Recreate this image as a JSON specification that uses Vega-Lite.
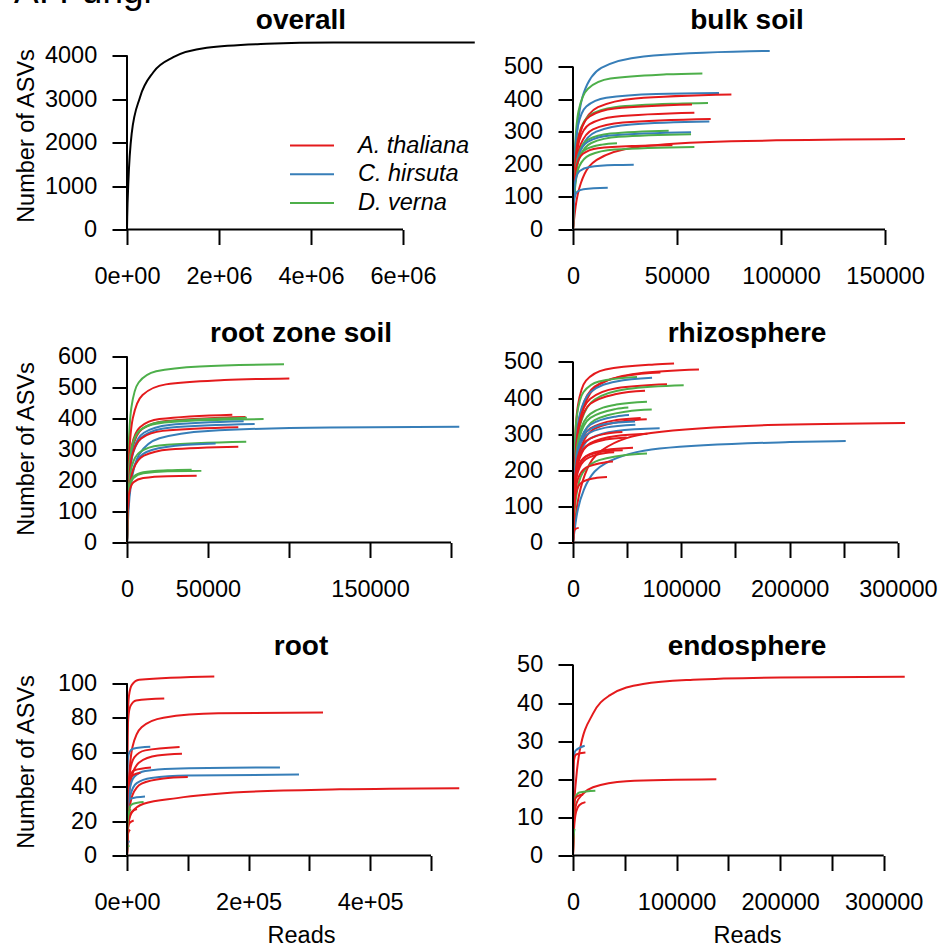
{
"$schema": "https://vega.github.io/schema/vega-lite/v6.json",
"background": "white",
"padding": {"left": 13, "top": -27.5, "right": 0, "bottom": 0},
"title": {"text": "A: Fungi", "anchor": "start", "fontSize": 37, "fontWeight": "normal", "font": "Liberation Sans", "color": "black", "baseline": "alphabetic", "offset": -33},
"config": {
  "font": "Liberation Sans",
  "view": {"stroke": null},
  "axis": {"grid": false, "domain": false, "tickColor": "black", "tickWidth": 2, "tickSize": 15, "labelFont": "Liberation Sans", "labelFontSize": 23.5, "labelColor": "black", "titleFont": "Liberation Sans", "titleFontSize": 23.5, "titleFontWeight": "normal", "titleColor": "black", "labelFlush": false, "labelOverlap": false, "labelBound": false, "tickCount": 20},
  "axisX": {"labelBaseline": "alphabetic", "labelPadding": 38.7, "labelAlign": "center", "labelAngle": 0, "titleX": 174, "titleY": 87, "titleBaseline": "alphabetic", "titleAlign": "center"},
  "axisY": {"labelPadding": 15.3, "labelAlign": "right", "labelBaseline": "middle", "titleX": -94, "titleY": 97, "titleBaseline": "alphabetic", "titleAlign": "center", "titleAngle": -90},
  "title": {"font": "Liberation Sans", "fontSize": 28, "fontWeight": "bold", "color": "black", "offset": 3.5, "baseline": "alphabetic", "anchor": "middle"}
},
"datasets": {
"curves": [
{"id":"b1","sp":"C. hirsuta"},{"id":"b2","sp":"D. verna"},{"id":"b3","sp":"C. hirsuta"},{"id":"b4","sp":"A. thaliana"},{"id":"b5","sp":"D. verna"},{"id":"b6","sp":"A. thaliana"},{"id":"b7","sp":"A. thaliana"},{"id":"b8","sp":"A. thaliana"},{"id":"b9","sp":"C. hirsuta"},{"id":"b10","sp":"D. verna"},{"id":"b11","sp":"C. hirsuta"},{"id":"b12","sp":"D. verna"},{"id":"b13","sp":"A. thaliana"},{"id":"b14","sp":"D. verna"},{"id":"b15","sp":"A. thaliana"},{"id":"b16","sp":"D. verna"},{"id":"b17","sp":"C. hirsuta"},{"id":"b18","sp":"C. hirsuta"},
{"id":"r1","sp":"D. verna"},{"id":"r2","sp":"A. thaliana"},{"id":"r3","sp":"A. thaliana"},{"id":"r4","sp":"A. thaliana"},{"id":"r5","sp":"D. verna"},{"id":"r6","sp":"D. verna"},{"id":"r7","sp":"C. hirsuta"},{"id":"r8","sp":"C. hirsuta"},{"id":"r9","sp":"A. thaliana"},{"id":"r10","sp":"C. hirsuta"},{"id":"r11","sp":"D. verna"},{"id":"r12","sp":"C. hirsuta"},{"id":"r13","sp":"A. thaliana"},{"id":"r14","sp":"D. verna"},{"id":"r15","sp":"D. verna"},{"id":"r16","sp":"A. thaliana"},
{"id":"z1","sp":"A. thaliana"},{"id":"z2","sp":"A. thaliana"},{"id":"z3","sp":"A. thaliana"},{"id":"z4","sp":"D. verna"},{"id":"z5","sp":"C. hirsuta"},{"id":"z6","sp":"A. thaliana"},{"id":"z7","sp":"D. verna"},{"id":"z8","sp":"A. thaliana"},{"id":"z9","sp":"D. verna"},{"id":"z10","sp":"D. verna"},{"id":"z11","sp":"D. verna"},{"id":"z12","sp":"C. hirsuta"},{"id":"z13","sp":"A. thaliana"},{"id":"z14","sp":"A. thaliana"},{"id":"z15","sp":"C. hirsuta"},{"id":"z16","sp":"C. hirsuta"},{"id":"z17","sp":"C. hirsuta"},{"id":"z18","sp":"A. thaliana"},{"id":"z19","sp":"A. thaliana"},{"id":"z20","sp":"A. thaliana"},{"id":"z21","sp":"A. thaliana"},{"id":"z22","sp":"C. hirsuta"},{"id":"z23","sp":"D. verna"},{"id":"z24","sp":"A. thaliana"},{"id":"z25","sp":"A. thaliana"},{"id":"z26","sp":"A. thaliana"},{"id":"z27","sp":"A. thaliana"},{"id":"z28","sp":"A. thaliana"},{"id":"z29","sp":"A. thaliana"},
{"id":"t1","sp":"A. thaliana"},{"id":"t2","sp":"A. thaliana"},{"id":"t3","sp":"A. thaliana"},{"id":"t4","sp":"C. hirsuta"},{"id":"t5","sp":"A. thaliana"},{"id":"t6","sp":"A. thaliana"},{"id":"t7","sp":"A. thaliana"},{"id":"t8","sp":"C. hirsuta"},{"id":"t9","sp":"C. hirsuta"},{"id":"t10","sp":"A. thaliana"},{"id":"t11","sp":"C. hirsuta"},{"id":"t12","sp":"D. verna"},{"id":"t13","sp":"A. thaliana"},{"id":"t14","sp":"A. thaliana"},{"id":"t15","sp":"A. thaliana"},{"id":"t16","sp":"C. hirsuta"},{"id":"t17","sp":"D. verna"},{"id":"t18","sp":"A. thaliana"},{"id":"t19","sp":"A. thaliana"},{"id":"t20","sp":"D. verna"},
{"id":"e1","sp":"A. thaliana"},{"id":"e2","sp":"A. thaliana"},{"id":"e3","sp":"C. hirsuta"},{"id":"e4","sp":"A. thaliana"},{"id":"e5","sp":"D. verna"},{"id":"e6","sp":"A. thaliana"},{"id":"e7","sp":"A. thaliana"},{"id":"e8","sp":"D. verna"}
],
"pts_overall": [
{"reads":0,"asvs":0},{"reads":5000,"asvs":300},{"reads":28000,"asvs":1050},{"reads":101000,"asvs":2200},{"reads":283000,"asvs":3041},{"reads":572000,"asvs":3616},{"reads":1007000,"asvs":3961},{"reads":1733000,"asvs":4177},{"reads":3037000,"asvs":4269},{"reads":4485000,"asvs":4299},{"reads":7560000,"asvs":4300}
],
"pts_bulk": [
{"id":"b1","reads":0,"asvs":0},{"id":"b1","reads":567,"asvs":140},{"id":"b1","reads":1700,"asvs":280},{"id":"b1","reads":5100,"asvs":419},{"id":"b1","reads":13600,"asvs":497},{"id":"b1","reads":34000,"asvs":532},{"id":"b1","reads":85000,"asvs":548},{"id":"b1","reads":94570,"asvs":549},
{"id":"b2","reads":0,"asvs":0},{"id":"b2","reads":300,"asvs":122},{"id":"b2","reads":900,"asvs":244},{"id":"b2","reads":2700,"asvs":365},{"id":"b2","reads":7200,"asvs":433},{"id":"b2","reads":18000,"asvs":464},{"id":"b2","reads":45000,"asvs":477},{"id":"b2","reads":62200,"asvs":480},
{"id":"b3","reads":0,"asvs":0},{"id":"b3","reads":267,"asvs":106},{"id":"b3","reads":800,"asvs":213},{"id":"b3","reads":2400,"asvs":319},{"id":"b3","reads":6400,"asvs":378},{"id":"b3","reads":16000,"asvs":405},{"id":"b3","reads":40000,"asvs":417},{"id":"b3","reads":70200,"asvs":420},
{"id":"b4","reads":0,"asvs":0},{"id":"b4","reads":500,"asvs":106},{"id":"b4","reads":1500,"asvs":212},{"id":"b4","reads":4500,"asvs":317},{"id":"b4","reads":12000,"asvs":376},{"id":"b4","reads":30000,"asvs":403},{"id":"b4","reads":76150,"asvs":415},
{"id":"b5","reads":0,"asvs":0},{"id":"b5","reads":333,"asvs":99},{"id":"b5","reads":1000,"asvs":198},{"id":"b5","reads":3000,"asvs":296},{"id":"b5","reads":8000,"asvs":351},{"id":"b5","reads":20000,"asvs":376},{"id":"b5","reads":50000,"asvs":387},{"id":"b5","reads":64900,"asvs":389},
{"id":"b6","reads":0,"asvs":0},{"id":"b6","reads":333,"asvs":98},{"id":"b6","reads":1000,"asvs":196},{"id":"b6","reads":3000,"asvs":293},{"id":"b6","reads":8000,"asvs":348},{"id":"b6","reads":20000,"asvs":372},{"id":"b6","reads":57200,"asvs":384},
{"id":"b7","reads":0,"asvs":0},{"id":"b7","reads":333,"asvs":91},{"id":"b7","reads":1000,"asvs":183},{"id":"b7","reads":3000,"asvs":274},{"id":"b7","reads":8000,"asvs":324},{"id":"b7","reads":20000,"asvs":347},{"id":"b7","reads":58350,"asvs":359},
{"id":"b8","reads":0,"asvs":0},{"id":"b8","reads":400,"asvs":87},{"id":"b8","reads":1200,"asvs":173},{"id":"b8","reads":3600,"asvs":260},{"id":"b8","reads":9600,"asvs":308},{"id":"b8","reads":24000,"asvs":329},{"id":"b8","reads":66200,"asvs":340},
{"id":"b9","reads":0,"asvs":0},{"id":"b9","reads":467,"asvs":85},{"id":"b9","reads":1400,"asvs":170},{"id":"b9","reads":4200,"asvs":254},{"id":"b9","reads":11200,"asvs":301},{"id":"b9","reads":28000,"asvs":323},{"id":"b9","reads":65550,"asvs":332},
{"id":"b10","reads":0,"asvs":0},{"id":"b10","reads":300,"asvs":78},{"id":"b10","reads":900,"asvs":155},{"id":"b10","reads":2700,"asvs":233},{"id":"b10","reads":7200,"asvs":276},{"id":"b10","reads":18000,"asvs":295},{"id":"b10","reads":46000,"asvs":304},
{"id":"b11","reads":0,"asvs":0},{"id":"b11","reads":300,"asvs":76},{"id":"b11","reads":900,"asvs":152},{"id":"b11","reads":2700,"asvs":228},{"id":"b11","reads":7200,"asvs":270},{"id":"b11","reads":18000,"asvs":289},{"id":"b11","reads":56750,"asvs":299},
{"id":"b12","reads":0,"asvs":0},{"id":"b12","reads":367,"asvs":75},{"id":"b12","reads":1100,"asvs":150},{"id":"b12","reads":3300,"asvs":224},{"id":"b12","reads":8800,"asvs":266},{"id":"b12","reads":22000,"asvs":285},{"id":"b12","reads":56750,"asvs":293},
{"id":"b13","reads":0,"asvs":0},{"id":"b13","reads":1267,"asvs":71},{"id":"b13","reads":3800,"asvs":143},{"id":"b13","reads":11400,"asvs":214},{"id":"b13","reads":30400,"asvs":253},{"id":"b13","reads":76000,"asvs":271},{"id":"b13","reads":159600,"asvs":278},
{"id":"b14","reads":0,"asvs":0},{"id":"b14","reads":233,"asvs":69},{"id":"b14","reads":700,"asvs":137},{"id":"b14","reads":2100,"asvs":206},{"id":"b14","reads":5600,"asvs":244},{"id":"b14","reads":14000,"asvs":261},{"id":"b14","reads":21150,"asvs":265},
{"id":"b15","reads":0,"asvs":0},{"id":"b15","reads":200,"asvs":66},{"id":"b15","reads":600,"asvs":131},{"id":"b15","reads":1800,"asvs":197},{"id":"b15","reads":4800,"asvs":233},{"id":"b15","reads":12000,"asvs":250},{"id":"b15","reads":30000,"asvs":257},{"id":"b15","reads":47800,"asvs":259},
{"id":"b16","reads":0,"asvs":0},{"id":"b16","reads":333,"asvs":65},{"id":"b16","reads":1000,"asvs":129},{"id":"b16","reads":3000,"asvs":194},{"id":"b16","reads":8000,"asvs":229},{"id":"b16","reads":20000,"asvs":246},{"id":"b16","reads":58350,"asvs":254},
{"id":"b17","reads":0,"asvs":0},{"id":"b17","reads":133,"asvs":51},{"id":"b17","reads":400,"asvs":101},{"id":"b17","reads":1200,"asvs":152},{"id":"b17","reads":3200,"asvs":180},{"id":"b17","reads":8000,"asvs":192},{"id":"b17","reads":20000,"asvs":198},{"id":"b17","reads":29200,"asvs":199},
{"id":"b18","reads":0,"asvs":0},{"id":"b18","reads":83,"asvs":33},{"id":"b18","reads":250,"asvs":65},{"id":"b18","reads":750,"asvs":98},{"id":"b18","reads":2000,"asvs":116},{"id":"b18","reads":5000,"asvs":124},{"id":"b18","reads":16700,"asvs":128}
],
"pts_rzs": [
{"id":"r1","reads":0,"asvs":0},{"id":"r1","reads":300,"asvs":145},{"id":"r1","reads":900,"asvs":290},{"id":"r1","reads":2700,"asvs":435},{"id":"r1","reads":7200,"asvs":516},{"id":"r1","reads":18000,"asvs":552},{"id":"r1","reads":45000,"asvs":568},{"id":"r1","reads":96900,"asvs":575},
{"id":"r2","reads":0,"asvs":0},{"id":"r2","reads":400,"asvs":134},{"id":"r2","reads":1200,"asvs":268},{"id":"r2","reads":3600,"asvs":401},{"id":"r2","reads":9600,"asvs":476},{"id":"r2","reads":24000,"asvs":510},{"id":"r2","reads":60000,"asvs":524},{"id":"r2","reads":100200,"asvs":529},
{"id":"r3","reads":0,"asvs":0},{"id":"r3","reads":333,"asvs":105},{"id":"r3","reads":1000,"asvs":209},{"id":"r3","reads":3000,"asvs":314},{"id":"r3","reads":8000,"asvs":372},{"id":"r3","reads":20000,"asvs":398},{"id":"r3","reads":65000,"asvs":412},
{"id":"r4","reads":0,"asvs":0},{"id":"r4","reads":400,"asvs":103},{"id":"r4","reads":1200,"asvs":206},{"id":"r4","reads":3600,"asvs":309},{"id":"r4","reads":9600,"asvs":367},{"id":"r4","reads":24000,"asvs":392},{"id":"r4","reads":73200,"asvs":405},
{"id":"r5","reads":0,"asvs":0},{"id":"r5","reads":300,"asvs":101},{"id":"r5","reads":900,"asvs":201},{"id":"r5","reads":2700,"asvs":302},{"id":"r5","reads":7200,"asvs":358},{"id":"r5","reads":18000,"asvs":383},{"id":"r5","reads":45000,"asvs":394},{"id":"r5","reads":84300,"asvs":398},
{"id":"r6","reads":0,"asvs":0},{"id":"r6","reads":333,"asvs":102},{"id":"r6","reads":1000,"asvs":204},{"id":"r6","reads":3000,"asvs":305},{"id":"r6","reads":8000,"asvs":362},{"id":"r6","reads":20000,"asvs":388},{"id":"r6","reads":74000,"asvs":402},
{"id":"r7","reads":0,"asvs":0},{"id":"r7","reads":433,"asvs":100},{"id":"r7","reads":1300,"asvs":199},{"id":"r7","reads":3900,"asvs":299},{"id":"r7","reads":10400,"asvs":354},{"id":"r7","reads":26000,"asvs":379},{"id":"r7","reads":72000,"asvs":391},
{"id":"r8","reads":0,"asvs":0},{"id":"r8","reads":433,"asvs":97},{"id":"r8","reads":1300,"asvs":194},{"id":"r8","reads":3900,"asvs":291},{"id":"r8","reads":10400,"asvs":345},{"id":"r8","reads":26000,"asvs":370},{"id":"r8","reads":78800,"asvs":382},
{"id":"r9","reads":0,"asvs":0},{"id":"r9","reads":367,"asvs":95},{"id":"r9","reads":1100,"asvs":189},{"id":"r9","reads":3300,"asvs":284},{"id":"r9","reads":8800,"asvs":336},{"id":"r9","reads":22000,"asvs":360},{"id":"r9","reads":68700,"asvs":372},
{"id":"r10","reads":0,"asvs":0},{"id":"r10","reads":833,"asvs":95},{"id":"r10","reads":2500,"asvs":189},{"id":"r10","reads":7500,"asvs":284},{"id":"r10","reads":20000,"asvs":336},{"id":"r10","reads":50000,"asvs":360},{"id":"r10","reads":125000,"asvs":371},{"id":"r10","reads":205100,"asvs":373},
{"id":"r11","reads":0,"asvs":0},{"id":"r11","reads":333,"asvs":82},{"id":"r11","reads":1000,"asvs":165},{"id":"r11","reads":3000,"asvs":247},{"id":"r11","reads":8000,"asvs":292},{"id":"r11","reads":20000,"asvs":313},{"id":"r11","reads":73600,"asvs":325},
{"id":"r12","reads":0,"asvs":0},{"id":"r12","reads":500,"asvs":82},{"id":"r12","reads":1500,"asvs":164},{"id":"r12","reads":4500,"asvs":246},{"id":"r12","reads":12000,"asvs":292},{"id":"r12","reads":30000,"asvs":312},{"id":"r12","reads":54700,"asvs":319},
{"id":"r13","reads":0,"asvs":0},{"id":"r13","reads":433,"asvs":79},{"id":"r13","reads":1300,"asvs":158},{"id":"r13","reads":3900,"asvs":236},{"id":"r13","reads":10400,"asvs":280},{"id":"r13","reads":26000,"asvs":300},{"id":"r13","reads":68700,"asvs":309},
{"id":"r14","reads":0,"asvs":0},{"id":"r14","reads":167,"asvs":60},{"id":"r14","reads":500,"asvs":119},{"id":"r14","reads":1500,"asvs":179},{"id":"r14","reads":4000,"asvs":212},{"id":"r14","reads":10000,"asvs":227},{"id":"r14","reads":25000,"asvs":233},{"id":"r14","reads":39900,"asvs":235},
{"id":"r15","reads":0,"asvs":0},{"id":"r15","reads":167,"asvs":59},{"id":"r15","reads":500,"asvs":117},{"id":"r15","reads":1500,"asvs":176},{"id":"r15","reads":4000,"asvs":208},{"id":"r15","reads":10000,"asvs":223},{"id":"r15","reads":25000,"asvs":230},{"id":"r15","reads":45900,"asvs":231},
{"id":"r16","reads":0,"asvs":0},{"id":"r16","reads":167,"asvs":55},{"id":"r16","reads":500,"asvs":109},{"id":"r16","reads":1500,"asvs":164},{"id":"r16","reads":4000,"asvs":194},{"id":"r16","reads":10000,"asvs":208},{"id":"r16","reads":25000,"asvs":214},{"id":"r16","reads":43000,"asvs":215}
],
"pts_rhizo": [
{"id":"z1","reads":0,"asvs":0},{"id":"z1","reads":500,"asvs":126},{"id":"z1","reads":1500,"asvs":252},{"id":"z1","reads":4500,"asvs":378},{"id":"z1","reads":12000,"asvs":448},{"id":"z1","reads":30000,"asvs":479},{"id":"z1","reads":75000,"asvs":493},{"id":"z1","reads":93300,"asvs":495.5},
{"id":"z2","reads":0,"asvs":0},{"id":"z2","reads":1000,"asvs":123},{"id":"z2","reads":3000,"asvs":246},{"id":"z2","reads":9000,"asvs":368},{"id":"z2","reads":24000,"asvs":437},{"id":"z2","reads":60000,"asvs":468},{"id":"z2","reads":116300,"asvs":479},
{"id":"z3","reads":0,"asvs":0},{"id":"z3","reads":833,"asvs":121},{"id":"z3","reads":2500,"asvs":243},{"id":"z3","reads":7500,"asvs":364},{"id":"z3","reads":20000,"asvs":432},{"id":"z3","reads":50000,"asvs":462},{"id":"z3","reads":80700,"asvs":471},
{"id":"z4","reads":0,"asvs":0},{"id":"z4","reads":400,"asvs":117},{"id":"z4","reads":1200,"asvs":234},{"id":"z4","reads":3600,"asvs":351},{"id":"z4","reads":9600,"asvs":416},{"id":"z4","reads":24000,"asvs":446},{"id":"z4","reads":59100,"asvs":458.5},
{"id":"z5","reads":0,"asvs":0},{"id":"z5","reads":667,"asvs":117},{"id":"z5","reads":2000,"asvs":234},{"id":"z5","reads":6000,"asvs":351},{"id":"z5","reads":16000,"asvs":416},{"id":"z5","reads":40000,"asvs":446},{"id":"z5","reads":73000,"asvs":456},
{"id":"z6","reads":0,"asvs":0},{"id":"z6","reads":667,"asvs":112},{"id":"z6","reads":2000,"asvs":224},{"id":"z6","reads":6000,"asvs":336},{"id":"z6","reads":16000,"asvs":398},{"id":"z6","reads":40000,"asvs":427},{"id":"z6","reads":86800,"asvs":438},
{"id":"z7","reads":0,"asvs":0},{"id":"z7","reads":833,"asvs":112},{"id":"z7","reads":2500,"asvs":223},{"id":"z7","reads":7500,"asvs":335},{"id":"z7","reads":20000,"asvs":396},{"id":"z7","reads":50000,"asvs":425},{"id":"z7","reads":102200,"asvs":435.5},
{"id":"z8","reads":0,"asvs":0},{"id":"z8","reads":667,"asvs":108},{"id":"z8","reads":2000,"asvs":216},{"id":"z8","reads":6000,"asvs":324},{"id":"z8","reads":16000,"asvs":384},{"id":"z8","reads":40000,"asvs":411},{"id":"z8","reads":66500,"asvs":420},
{"id":"z9","reads":0,"asvs":0},{"id":"z9","reads":667,"asvs":100},{"id":"z9","reads":2000,"asvs":201},{"id":"z9","reads":6000,"asvs":301},{"id":"z9","reads":16000,"asvs":356},{"id":"z9","reads":40000,"asvs":382},{"id":"z9","reads":68300,"asvs":390},
{"id":"z10","reads":0,"asvs":0},{"id":"z10","reads":833,"asvs":95},{"id":"z10","reads":2500,"asvs":190},{"id":"z10","reads":7500,"asvs":286},{"id":"z10","reads":20000,"asvs":339},{"id":"z10","reads":50000,"asvs":363},{"id":"z10","reads":72700,"asvs":368},
{"id":"z11","reads":0,"asvs":0},{"id":"z11","reads":667,"asvs":97},{"id":"z11","reads":2000,"asvs":194},{"id":"z11","reads":6000,"asvs":291},{"id":"z11","reads":16000,"asvs":345},{"id":"z11","reads":40000,"asvs":370},{"id":"z11","reads":51100,"asvs":374},
{"id":"z12","reads":0,"asvs":0},{"id":"z12","reads":667,"asvs":92},{"id":"z12","reads":2000,"asvs":183},{"id":"z12","reads":6000,"asvs":275},{"id":"z12","reads":16000,"asvs":326},{"id":"z12","reads":40000,"asvs":349},{"id":"z12","reads":51700,"asvs":353},
{"id":"z13","reads":0,"asvs":0},{"id":"z13","reads":833,"asvs":88},{"id":"z13","reads":2500,"asvs":177},{"id":"z13","reads":7500,"asvs":265},{"id":"z13","reads":20000,"asvs":315},{"id":"z13","reads":50000,"asvs":337},{"id":"z13","reads":68100,"asvs":341},
{"id":"z14","reads":0,"asvs":0},{"id":"z14","reads":667,"asvs":89},{"id":"z14","reads":2000,"asvs":178},{"id":"z14","reads":6000,"asvs":267},{"id":"z14","reads":16000,"asvs":316},{"id":"z14","reads":40000,"asvs":339},{"id":"z14","reads":62500,"asvs":345},
{"id":"z15","reads":0,"asvs":0},{"id":"z15","reads":500,"asvs":86},{"id":"z15","reads":1500,"asvs":172},{"id":"z15","reads":4500,"asvs":258},{"id":"z15","reads":12000,"asvs":306},{"id":"z15","reads":30000,"asvs":328},{"id":"z15","reads":57300,"asvs":335},
{"id":"z16","reads":0,"asvs":0},{"id":"z16","reads":500,"asvs":84},{"id":"z16","reads":1500,"asvs":167},{"id":"z16","reads":4500,"asvs":251},{"id":"z16","reads":12000,"asvs":297},{"id":"z16","reads":30000,"asvs":318},{"id":"z16","reads":57600,"asvs":326},
{"id":"z17","reads":0,"asvs":0},{"id":"z17","reads":667,"asvs":81},{"id":"z17","reads":2000,"asvs":162},{"id":"z17","reads":6000,"asvs":243},{"id":"z17","reads":16000,"asvs":288},{"id":"z17","reads":40000,"asvs":309},{"id":"z17","reads":80000,"asvs":316},
{"id":"z18","reads":0,"asvs":0},{"id":"z18","reads":500,"asvs":79},{"id":"z18","reads":1500,"asvs":158},{"id":"z18","reads":4500,"asvs":237},{"id":"z18","reads":12000,"asvs":281},{"id":"z18","reads":30000,"asvs":301},{"id":"z18","reads":45600,"asvs":306},
{"id":"z19","reads":0,"asvs":0},{"id":"z19","reads":667,"asvs":77},{"id":"z19","reads":2000,"asvs":155},{"id":"z19","reads":6000,"asvs":232},{"id":"z19","reads":16000,"asvs":275},{"id":"z19","reads":40000,"asvs":295},{"id":"z19","reads":68700,"asvs":301},
{"id":"z20","reads":0,"asvs":0},{"id":"z20","reads":500,"asvs":75},{"id":"z20","reads":1500,"asvs":150},{"id":"z20","reads":4500,"asvs":225},{"id":"z20","reads":12000,"asvs":266},{"id":"z20","reads":30000,"asvs":285},{"id":"z20","reads":49600,"asvs":291},
{"id":"z21","reads":0,"asvs":0},{"id":"z21","reads":3000,"asvs":85},{"id":"z21","reads":9000,"asvs":170.5},{"id":"z21","reads":27000,"asvs":256},{"id":"z21","reads":72000,"asvs":303},{"id":"z21","reads":180000,"asvs":325},{"id":"z21","reads":306600,"asvs":331},
{"id":"z22","reads":0,"asvs":0},{"id":"z22","reads":3333,"asvs":73},{"id":"z22","reads":10000,"asvs":146},{"id":"z22","reads":30000,"asvs":219},{"id":"z22","reads":80000,"asvs":260},{"id":"z22","reads":200000,"asvs":278},{"id":"z22","reads":251800,"asvs":281},
{"id":"z23","reads":0,"asvs":0},{"id":"z23","reads":1000,"asvs":64},{"id":"z23","reads":3000,"asvs":128.5},{"id":"z23","reads":9000,"asvs":193},{"id":"z23","reads":24000,"asvs":228},{"id":"z23","reads":60000,"asvs":245},{"id":"z23","reads":68300,"asvs":246.4},
{"id":"z24","reads":0,"asvs":0},{"id":"z24","reads":500,"asvs":67},{"id":"z24","reads":1500,"asvs":134.5},{"id":"z24","reads":4500,"asvs":202},{"id":"z24","reads":12000,"asvs":239},{"id":"z24","reads":30000,"asvs":256},{"id":"z24","reads":55400,"asvs":262},
{"id":"z25","reads":0,"asvs":0},{"id":"z25","reads":400,"asvs":65.5},{"id":"z25","reads":1200,"asvs":131},{"id":"z25","reads":3600,"asvs":196.5},{"id":"z25","reads":9600,"asvs":233},{"id":"z25","reads":24000,"asvs":250},{"id":"z25","reads":45900,"asvs":255.5},
{"id":"z26","reads":0,"asvs":0},{"id":"z26","reads":500,"asvs":58},{"id":"z26","reads":1500,"asvs":116.5},{"id":"z26","reads":4500,"asvs":175},{"id":"z26","reads":12000,"asvs":207},{"id":"z26","reads":30000,"asvs":222},{"id":"z26","reads":36900,"asvs":224},
{"id":"z27","reads":0,"asvs":0},{"id":"z27","reads":333,"asvs":47},{"id":"z27","reads":1000,"asvs":93.5},{"id":"z27","reads":3000,"asvs":140},{"id":"z27","reads":8000,"asvs":166},{"id":"z27","reads":20000,"asvs":178},{"id":"z27","reads":31400,"asvs":181},
{"id":"z28","reads":0,"asvs":0},{"id":"z28","reads":100,"asvs":11},{"id":"z28","reads":300,"asvs":21.5},{"id":"z28","reads":900,"asvs":32},{"id":"z28","reads":2400,"asvs":38},{"id":"z28","reads":5300,"asvs":40.5},
{"id":"z29","reads":0,"asvs":0},{"id":"z29","reads":500,"asvs":65},{"id":"z29","reads":1500,"asvs":130},{"id":"z29","reads":4500,"asvs":195},{"id":"z29","reads":12000,"asvs":231},{"id":"z29","reads":30000,"asvs":248},{"id":"z29","reads":38000,"asvs":250}
],
"pts_rootcomp": [
{"id":"t1","reads":0,"asvs":0},{"id":"t1","reads":133,"asvs":26},{"id":"t1","reads":400,"asvs":52},{"id":"t1","reads":1200,"asvs":78},{"id":"t1","reads":3200,"asvs":92.6},{"id":"t1","reads":8000,"asvs":99},{"id":"t1","reads":20000,"asvs":102},{"id":"t1","reads":143600,"asvs":103.9},
{"id":"t2","reads":0,"asvs":0},{"id":"t2","reads":100,"asvs":23},{"id":"t2","reads":300,"asvs":46},{"id":"t2","reads":900,"asvs":69},{"id":"t2","reads":2400,"asvs":81},{"id":"t2","reads":6000,"asvs":87},{"id":"t2","reads":15000,"asvs":90},{"id":"t2","reads":61300,"asvs":91.1},
{"id":"t3","reads":0,"asvs":0},{"id":"t3","reads":1000,"asvs":21},{"id":"t3","reads":3000,"asvs":42},{"id":"t3","reads":9000,"asvs":63},{"id":"t3","reads":24000,"asvs":74.5},{"id":"t3","reads":60000,"asvs":80},{"id":"t3","reads":150000,"asvs":82.5},{"id":"t3","reads":322400,"asvs":83},
{"id":"t4","reads":0,"asvs":0},{"id":"t4","reads":67,"asvs":16},{"id":"t4","reads":200,"asvs":32},{"id":"t4","reads":600,"asvs":47.5},{"id":"t4","reads":1600,"asvs":56},{"id":"t4","reads":4000,"asvs":60},{"id":"t4","reads":10000,"asvs":62},{"id":"t4","reads":38300,"asvs":63.1},
{"id":"t5","reads":0,"asvs":0},{"id":"t5","reads":500,"asvs":16},{"id":"t5","reads":1500,"asvs":32},{"id":"t5","reads":4500,"asvs":48},{"id":"t5","reads":12000,"asvs":57},{"id":"t5","reads":30000,"asvs":61},{"id":"t5","reads":86500,"asvs":63},
{"id":"t6","reads":0,"asvs":0},{"id":"t6","reads":833,"asvs":15},{"id":"t6","reads":2500,"asvs":30},{"id":"t6","reads":7500,"asvs":45.5},{"id":"t6","reads":20000,"asvs":54},{"id":"t6","reads":50000,"asvs":58},{"id":"t6","reads":90400,"asvs":59},
{"id":"t7","reads":0,"asvs":0},{"id":"t7","reads":200,"asvs":13},{"id":"t7","reads":600,"asvs":26},{"id":"t7","reads":1800,"asvs":39},{"id":"t7","reads":4800,"asvs":46},{"id":"t7","reads":12000,"asvs":49.5},{"id":"t7","reads":39500,"asvs":51.1},
{"id":"t8","reads":0,"asvs":0},{"id":"t8","reads":500,"asvs":13},{"id":"t8","reads":1500,"asvs":25.7},{"id":"t8","reads":4500,"asvs":38.5},{"id":"t8","reads":12000,"asvs":45.7},{"id":"t8","reads":30000,"asvs":49},{"id":"t8","reads":75000,"asvs":50.4},{"id":"t8","reads":251600,"asvs":51.1},
{"id":"t9","reads":0,"asvs":0},{"id":"t9","reads":667,"asvs":12},{"id":"t9","reads":2000,"asvs":23.7},{"id":"t9","reads":6000,"asvs":35.5},{"id":"t9","reads":16000,"asvs":42},{"id":"t9","reads":40000,"asvs":45},{"id":"t9","reads":100000,"asvs":46.4},{"id":"t9","reads":282900,"asvs":47},
{"id":"t10","reads":0,"asvs":0},{"id":"t10","reads":1000,"asvs":12},{"id":"t10","reads":3000,"asvs":23.4},{"id":"t10","reads":9000,"asvs":35},{"id":"t10","reads":24000,"asvs":41.7},{"id":"t10","reads":60000,"asvs":44.7},{"id":"t10","reads":100000,"asvs":45.5},
{"id":"t11","reads":0,"asvs":0},{"id":"t11","reads":100,"asvs":8.6},{"id":"t11","reads":300,"asvs":17.3},{"id":"t11","reads":900,"asvs":26},{"id":"t11","reads":2400,"asvs":30.7},{"id":"t11","reads":6000,"asvs":33},{"id":"t11","reads":29600,"asvs":34.2},
{"id":"t12","reads":0,"asvs":0},{"id":"t12","reads":167,"asvs":8},{"id":"t12","reads":500,"asvs":15.8},{"id":"t12","reads":1500,"asvs":23.7},{"id":"t12","reads":4000,"asvs":28},{"id":"t12","reads":10000,"asvs":30},{"id":"t12","reads":27300,"asvs":31},
{"id":"t13","reads":0,"asvs":0},{"id":"t13","reads":1000,"asvs":10},{"id":"t13","reads":2700,"asvs":19},{"id":"t13","reads":8000,"asvs":25},{"id":"t13","reads":27400,"asvs":30},{"id":"t13","reads":82200,"asvs":33.3},{"id":"t13","reads":191800,"asvs":36.8},{"id":"t13","reads":350000,"asvs":38.4},{"id":"t13","reads":546500,"asvs":39.1},
{"id":"t14","reads":0,"asvs":0},{"id":"t14","reads":333,"asvs":7},{"id":"t14","reads":1000,"asvs":14.3},{"id":"t14","reads":3000,"asvs":21.5},{"id":"t14","reads":8000,"asvs":25.4},{"id":"t14","reads":16400,"asvs":27},
{"id":"t15","reads":0,"asvs":0},{"id":"t15","reads":167,"asvs":5.3},{"id":"t15","reads":500,"asvs":10.6},{"id":"t15","reads":1500,"asvs":15.9},{"id":"t15","reads":4000,"asvs":18.8},{"id":"t15","reads":11000,"asvs":20.3},
{"id":"t16","reads":0,"asvs":0},{"id":"t16","reads":67,"asvs":2},{"id":"t16","reads":200,"asvs":4.3},{"id":"t16","reads":600,"asvs":6.4},{"id":"t16","reads":1600,"asvs":7.6},{"id":"t16","reads":4300,"asvs":8.3},
{"id":"t17","reads":0,"asvs":0},{"id":"t17","reads":100,"asvs":2},{"id":"t17","reads":300,"asvs":3.6},{"id":"t17","reads":1000,"asvs":5},{"id":"t17","reads":4000,"asvs":5.8},
{"id":"t18","reads":0,"asvs":0},{"id":"t18","reads":150,"asvs":4},{"id":"t18","reads":500,"asvs":8.5},{"id":"t18","reads":1500,"asvs":12.5},{"id":"t18","reads":5000,"asvs":15},
{"id":"t19","reads":0,"asvs":0},{"id":"t19","reads":167,"asvs":12},{"id":"t19","reads":500,"asvs":24.5},{"id":"t19","reads":1500,"asvs":37},{"id":"t19","reads":4000,"asvs":43.7},{"id":"t19","reads":10000,"asvs":46.7},{"id":"t19","reads":22000,"asvs":48},
{"id":"t20","reads":0,"asvs":0},{"id":"t20","reads":200,"asvs":9},{"id":"t20","reads":600,"asvs":16},{"id":"t20","reads":2000,"asvs":23},{"id":"t20","reads":6000,"asvs":27}
],
"pts_endo": [
{"id":"e1","reads":0,"asvs":0},{"id":"e1","reads":1000,"asvs":12},{"id":"e1","reads":3000,"asvs":20},{"id":"e1","reads":6500,"asvs":27.5},{"id":"e1","reads":19300,"asvs":37.2},{"id":"e1","reads":35400,"asvs":42},{"id":"e1","reads":67600,"asvs":45},{"id":"e1","reads":115900,"asvs":46.1},{"id":"e1","reads":200000,"asvs":46.7},{"id":"e1","reads":320300,"asvs":46.9},
{"id":"e2","reads":0,"asvs":0},{"id":"e2","reads":650,"asvs":7.4},{"id":"e2","reads":3200,"asvs":13.6},{"id":"e2","reads":9700,"asvs":16.2},{"id":"e2","reads":19300,"asvs":17.9},{"id":"e2","reads":51500,"asvs":19.5},{"id":"e2","reads":138400,"asvs":20},
{"id":"e3","reads":0,"asvs":0},{"id":"e3","reads":200,"asvs":15},{"id":"e3","reads":650,"asvs":25.5},{"id":"e3","reads":2500,"asvs":27.5},{"id":"e3","reads":11300,"asvs":28.8},
{"id":"e4","reads":0,"asvs":0},{"id":"e4","reads":300,"asvs":18},{"id":"e4","reads":1000,"asvs":25},{"id":"e4","reads":3000,"asvs":26.5},{"id":"e4","reads":12000,"asvs":27},
{"id":"e5","reads":0,"asvs":0},{"id":"e5","reads":500,"asvs":10},{"id":"e5","reads":2000,"asvs":15},{"id":"e5","reads":6000,"asvs":16.5},{"id":"e5","reads":21600,"asvs":17},
{"id":"e6","reads":0,"asvs":0},{"id":"e6","reads":400,"asvs":10},{"id":"e6","reads":1500,"asvs":14.5},{"id":"e6","reads":4000,"asvs":15.5},{"id":"e6","reads":9700,"asvs":16},
{"id":"e7","reads":0,"asvs":0},{"id":"e7","reads":1000,"asvs":7},{"id":"e7","reads":3000,"asvs":11.5},{"id":"e7","reads":6000,"asvs":13.2},{"id":"e7","reads":12000,"asvs":14},
{"id":"e8","reads":0,"asvs":0},{"id":"e8","reads":300,"asvs":4},{"id":"e8","reads":1500,"asvs":7}
]
},
"columns": 2,
"spacing": {"row": 122, "column": 98},
"bounds": "flush",
"resolve": {"scale": {"x": "independent", "y": "independent", "color": "shared"}},
"concat": [
{
 "title": {"text": "overall"}, "width": 348, "height": 191,
 "layer": [
  {"data": {"name": "pts_overall"}, "mark": {"type": "line", "interpolate": "monotone", "strokeWidth": 2, "color": "black"},
   "encoding": {
    "x": {"field": "reads", "type": "quantitative", "scale": {"domain": [0, 7565000], "nice": false, "zero": false}, "axis": {"values": [0, 2000000, 4000000, 6000000], "tickCount": 20, "labelOverlap": false, "labelExpr": "datum.value == 0 ? '0e+00' : datum.value == 2000000 ? '2e+06' : datum.value == 4000000 ? '4e+06' : '6e+06'", "title": null}},
    "y": {"field": "asvs", "type": "quantitative", "scale": {"domain": [0, 4391], "nice": false}, "axis": {"values": [0, 1000, 2000, 3000, 4000], "tickCount": 20, "labelOverlap": false, "format": "d", "title": "Number of ASVs"}}
   }},
  {"data": {"values": [{}]}, "mark": {"type": "rule", "strokeWidth": 2, "color": "black"}, "encoding": {"x": {"datum": 0}, "x2": {"datum": 6000000}, "y": {"datum": 0}}},
  {"data": {"values": [{}]}, "mark": {"type": "rule", "strokeWidth": 2, "color": "black"}, "encoding": {"x": {"datum": 0}, "y": {"datum": 0}, "y2": {"datum": 4000}}}
 ]
},
{
 "title": {"text": "bulk soil"}, "width": 348, "height": 191,
 "layer": [
  {"data": {"name": "pts_bulk"}, "transform": [{"lookup": "id", "from": {"data": {"name": "curves"}, "key": "id", "fields": ["sp"]}}],
   "mark": {"type": "line", "interpolate": "monotone", "strokeWidth": 2},
   "encoding": {
    "x": {"field": "reads", "type": "quantitative", "scale": {"domain": [0, 167300], "nice": false, "zero": false}, "axis": {"values": [0, 50000, 100000, 150000], "tickCount": 20, "labelOverlap": false, "format": "d", "title": null}},
    "y": {"field": "asvs", "type": "quantitative", "scale": {"domain": [0, 587.3], "nice": false}, "axis": {"values": [0, 100, 200, 300, 400, 500], "tickCount": 20, "labelOverlap": false, "format": "d", "title": null}},
    "detail": {"field": "id"},
    "color": {"field": "sp", "type": "nominal", "scale": {"domain": ["A. thaliana", "C. hirsuta", "D. verna"], "range": ["#E41A1C", "#377EB8", "#4DAF4A"]},
     "legend": {"title": null, "orient": "none", "legendX": 162, "legendY": 95, "symbolType": "stroke", "symbolSize": 1936, "symbolStrokeWidth": 2, "labelFont": "Liberation Sans", "labelFontSize": 23.5, "labelFontStyle": "italic", "labelColor": "black", "labelOffset": 23, "clipHeight": 24, "rowPadding": 4.7, "padding": 0}}
   }},
  {"data": {"values": [{}]}, "mark": {"type": "rule", "strokeWidth": 2, "color": "black"}, "encoding": {"x": {"datum": 0}, "x2": {"datum": 150000}, "y": {"datum": 0}}},
  {"data": {"values": [{}]}, "mark": {"type": "rule", "strokeWidth": 2, "color": "black"}, "encoding": {"x": {"datum": 0}, "y": {"datum": 0}, "y2": {"datum": 500}}}
 ]
},
{
 "title": {"text": "root zone soil", "dy": 6.8}, "width": 348, "height": 191,
 "layer": [
  {"data": {"name": "pts_rzs"}, "transform": [{"lookup": "id", "from": {"data": {"name": "curves"}, "key": "id", "fields": ["sp"]}}],
   "mark": {"type": "line", "interpolate": "monotone", "strokeWidth": 2},
   "encoding": {
    "x": {"field": "reads", "type": "quantitative", "scale": {"domain": [0, 214800], "nice": false, "zero": false}, "axis": {"values": [0, 50000, 100000, 150000, 200000], "tickCount": 20, "labelOverlap": false, "format": "d", "labelExpr": "datum.value == 100000 || datum.value == 200000 ? '' : datum.label", "title": null}},
    "y": {"field": "asvs", "type": "quantitative", "scale": {"domain": [0, 616], "nice": false}, "axis": {"values": [0, 100, 200, 300, 400, 500, 600], "tickCount": 20, "labelOverlap": false, "format": "d", "title": "Number of ASVs"}},
    "detail": {"field": "id"},
    "color": {"field": "sp", "type": "nominal"}
   }},
  {"data": {"values": [{}]}, "mark": {"type": "rule", "strokeWidth": 2, "color": "black"}, "encoding": {"x": {"datum": 0}, "x2": {"datum": 200000}, "y": {"datum": 0}}},
  {"data": {"values": [{}]}, "mark": {"type": "rule", "strokeWidth": 2, "color": "black"}, "encoding": {"x": {"datum": 0}, "y": {"datum": 0}, "y2": {"datum": 600}}}
 ]
},
{
 "title": {"text": "rhizosphere", "dy": 1.4}, "width": 348, "height": 191,
 "layer": [
  {"data": {"name": "pts_rhizo"}, "transform": [{"lookup": "id", "from": {"data": {"name": "curves"}, "key": "id", "fields": ["sp"]}}],
   "mark": {"type": "line", "interpolate": "monotone", "strokeWidth": 2},
   "encoding": {
    "x": {"field": "reads", "type": "quantitative", "scale": {"domain": [0, 321300], "nice": false, "zero": false}, "axis": {"values": [0, 50000, 100000, 150000, 200000, 250000, 300000], "tickCount": 20, "labelOverlap": false, "format": "d", "labelExpr": "datum.value % 100000 == 0 ? datum.label : ''", "title": null}},
    "y": {"field": "asvs", "type": "quantitative", "scale": {"domain": [0, 528.8], "nice": false}, "axis": {"values": [0, 100, 200, 300, 400, 500], "tickCount": 20, "labelOverlap": false, "format": "d", "title": null}},
    "detail": {"field": "id"},
    "color": {"field": "sp", "type": "nominal"}
   }},
  {"data": {"values": [{}]}, "mark": {"type": "rule", "strokeWidth": 2, "color": "black"}, "encoding": {"x": {"datum": 0}, "x2": {"datum": 300000}, "y": {"datum": 0}}},
  {"data": {"values": [{}]}, "mark": {"type": "rule", "strokeWidth": 2, "color": "black"}, "encoding": {"x": {"datum": 0}, "y": {"datum": 0}, "y2": {"datum": 500}}}
 ]
},
{
 "title": {"text": "root"}, "width": 348, "height": 191,
 "layer": [
  {"data": {"name": "pts_rootcomp"}, "transform": [{"lookup": "id", "from": {"data": {"name": "curves"}, "key": "id", "fields": ["sp"]}}],
   "mark": {"type": "line", "interpolate": "monotone", "strokeWidth": 2},
   "encoding": {
    "x": {"field": "reads", "type": "quantitative", "scale": {"domain": [0, 572400], "nice": false, "zero": false}, "axis": {"values": [0, 100000, 200000, 300000, 400000, 500000], "tickCount": 20, "labelOverlap": false, "labelExpr": "datum.value == 0 ? '0e+00' : datum.value == 200000 ? '2e+05' : datum.value == 400000 ? '4e+05' : ''", "title": "Reads"}},
    "y": {"field": "asvs", "type": "quantitative", "scale": {"domain": [0, 110.85], "nice": false}, "axis": {"values": [0, 20, 40, 60, 80, 100], "tickCount": 20, "labelOverlap": false, "format": "d", "title": "Number of ASVs"}},
    "detail": {"field": "id"},
    "color": {"field": "sp", "type": "nominal"}
   }},
  {"data": {"values": [{}]}, "mark": {"type": "rule", "strokeWidth": 2, "color": "black"}, "encoding": {"x": {"datum": 0}, "x2": {"datum": 500000}, "y": {"datum": 0}}},
  {"data": {"values": [{}]}, "mark": {"type": "rule", "strokeWidth": 2, "color": "black"}, "encoding": {"x": {"datum": 0}, "y": {"datum": 0}, "y2": {"datum": 100}}}
 ]
},
{
 "title": {"text": "endosphere", "dy": 11.4}, "width": 348, "height": 191,
 "layer": [
  {"data": {"name": "pts_endo"}, "transform": [{"lookup": "id", "from": {"data": {"name": "curves"}, "key": "id", "fields": ["sp"]}}],
   "mark": {"type": "line", "interpolate": "monotone", "strokeWidth": 2},
   "encoding": {
    "x": {"field": "reads", "type": "quantitative", "scale": {"domain": [0, 336000], "nice": false, "zero": false}, "axis": {"values": [0, 50000, 100000, 150000, 200000, 250000, 300000], "tickCount": 20, "labelOverlap": false, "format": "d", "labelExpr": "datum.value % 100000 == 0 ? datum.label : ''", "title": "Reads"}},
    "y": {"field": "asvs", "type": "quantitative", "scale": {"domain": [0, 50.1], "nice": false}, "axis": {"values": [0, 10, 20, 30, 40, 50], "tickCount": 20, "labelOverlap": false, "format": "d", "title": null}},
    "detail": {"field": "id"},
    "color": {"field": "sp", "type": "nominal"}
   }},
  {"data": {"values": [{}]}, "mark": {"type": "rule", "strokeWidth": 2, "color": "black"}, "encoding": {"x": {"datum": 0}, "x2": {"datum": 300000}, "y": {"datum": 0}}},
  {"data": {"values": [{}]}, "mark": {"type": "rule", "strokeWidth": 2, "color": "black"}, "encoding": {"x": {"datum": 0}, "y": {"datum": 0}, "y2": {"datum": 50}}}
 ]
}
]
}
